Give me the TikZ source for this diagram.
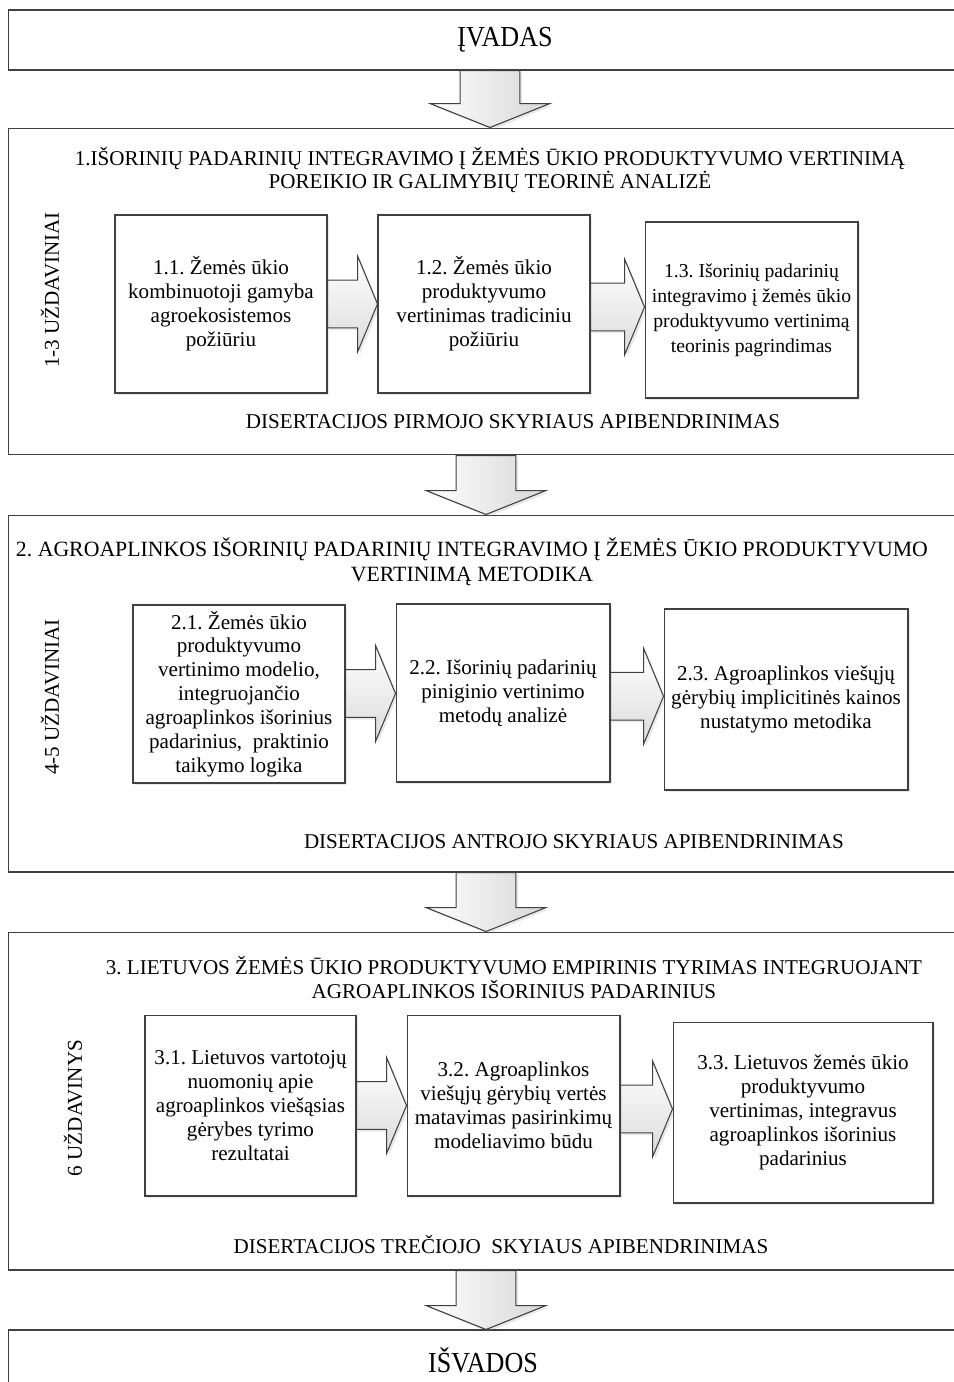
\documentclass[tikz,border=0pt]{standalone}
\usepackage{fontspec}
\setmainfont{Liberation Serif}
\usetikzlibrary{calc,shadows}
\frenchspacing

% one unit = one pixel of the layout
\tikzset{
  secbox/.style={draw=black!75, line width=0.6pt, rectangle, inner sep=0pt},
  taskbox/.style={draw=black!75, line width=0.6pt, fill=white, rectangle,
    align=center, inner sep=0pt,
    drop shadow={opacity=0.18, shadow xshift=1.3pt, shadow yshift=-1.3pt}},
  headtxt/.style={inner sep=0pt, align=center},
  sidetxt/.style={inner sep=0pt, rotate=90},
  blockh/.style={draw=black!75, line width=0.6pt, top color=white, bottom color=black!14,
    drop shadow={opacity=0.18, shadow xshift=1.3pt, shadow yshift=-1.3pt}},
  blockv/.style={draw=black!75, line width=0.6pt, left color=white, right color=black!16,
    drop shadow={opacity=0.18, shadow xshift=1.3pt, shadow yshift=-1.3pt}}
}

% block arrow between two boxes side by side
\newcommand{\hblock}[2]{%
  \path[blockh] let \p1=(#1.east), \p2=(#2.west), \n1={(\y1+\y2)/2}, \n2={\x2-11.3pt} in
    (\x1,\n1+13.6pt) -- (\n2,\n1+13.6pt) -- (\n2,\n1+27.2pt) -- (\x2,\n1)
    -- (\n2,\n1-27.2pt) -- (\n2,\n1-13.6pt) -- (\x1,\n1-13.6pt) -- cycle;}
% block arrow down from one section to the next
\newcommand{\vblock}[3]{%
  \path[blockv] let \p1=(#1.south), \p2=(#2.north), \p3=(#3,0), \n2={\y2+13.6pt} in
    (\x3-17pt,\y1) -- (\x3+17pt,\y1) -- (\x3+17pt,\n2) -- (\x3+34pt,\n2) -- (\x3,\y2)
    -- (\x3-34pt,\n2) -- (\x3-17pt,\n2) -- cycle;}

\begin{document}
\begin{tikzpicture}[x=0.02cm, y=-0.02cm, font=\fontsize{12}{13.6}\selectfont]
\useasboundingbox (0,0) rectangle (953,1382);

% sections
\node[secbox, minimum width=19.04cm, minimum height=1.2cm] (intro) at (484,40) {};
\node[secbox, minimum width=19.04cm, minimum height=6.54cm] (sec1) at (484,291.5) {};
\node[secbox, minimum width=19.04cm, minimum height=7.14cm] (sec2) at (484,693.5) {};
\node[secbox, minimum width=19.04cm, minimum height=6.76cm] (sec3) at (484,1101) {};
\node[secbox, minimum width=19.04cm, minimum height=1.4cm] (concl) at (484,1365) {};

\node[headtxt, xscale=0.9, transform shape, font=\fontsize{16.5}{18}\selectfont] (introtxt) at (505,40) {ĮVADAS};
\node[headtxt, xscale=0.9, transform shape, font=\fontsize{16.5}{18}\selectfont] (concltxt) at (483,1360) {IŠVADOS};

% section 1
\node[headtxt] (head1) at (490,170) {1.IŠORINIŲ PADARINIŲ INTEGRAVIMO Į ŽEMĖS ŪKIO PRODUKTYVUMO VERTINIMĄ\\
  POREIKIO IR GALIMYBIŲ TEORINĖ ANALIZĖ};
\node[sidetxt] (side1) at (50,290) {1-3 UŽDAVINIAI};
\node[taskbox, minimum width=4.24cm, minimum height=3.56cm] (t11) at (221,304)
  {1.1. Žemės ūkio\\ kombinuotoji gamyba\\ agroekosistemos\\ požiūriu};
\node[taskbox, minimum width=4.24cm, minimum height=3.56cm] (t12) at (484,304)
  {1.2. Žemės ūkio\\ produktyvumo\\ vertinimas tradiciniu\\ požiūriu};
\node[taskbox, minimum width=4.26cm, minimum height=3.52cm, font=\fontsize{11.2}{14.2}\selectfont] (t13) at (751.5,310)
  {1.3. Išorinių padarinių\\ integravimo į žemės ūkio\\ produktyvumo vertinimą\\ teorinis pagrindimas};
\node[headtxt] (sum1) at (513,422) {DISERTACIJOS PIRMOJO SKYRIAUS APIBENDRINIMAS};

% section 2
\node[headtxt, font=\fontsize{12.4}{14}\selectfont] (head2) at (472,561.5)
  {2. AGROAPLINKOS IŠORINIŲ PADARINIŲ INTEGRAVIMO Į ŽEMĖS ŪKIO PRODUKTYVUMO\\ VERTINIMĄ METODIKA};
\node[sidetxt] (side2) at (50,697) {4-5 UŽDAVINIAI};
\node[taskbox, minimum width=4.24cm, minimum height=3.56cm] (t21) at (239,694)
  {2.1. Žemės ūkio\\ produktyvumo\\ vertinimo modelio,\\ integruojančio\\ agroaplinkos išorinius\\
   padarinius,\ \ praktinio\\ taikymo logika};
\node[taskbox, minimum width=4.28cm, minimum height=3.56cm] (t22) at (503,693)
  {2.2. Išorinių padarinių\\ piniginio vertinimo\\ metodų analizė};
\node[taskbox, minimum width=4.88cm, minimum height=3.62cm] (t23) at (786,699.5)
  {2.3. Agroaplinkos viešųjų\\ gėrybių implicitinės kainos\\ nustatymo metodika};
\node[headtxt] (sum2) at (574,842) {DISERTACIJOS ANTROJO SKYRIAUS APIBENDRINIMAS};

% section 3
\node[headtxt] (head3) at (514,977.5) {3. LIETUVOS ŽEMĖS ŪKIO PRODUKTYVUMO EMPIRINIS TYRIMAS INTEGRUOJANT\\
  AGROAPLINKOS IŠORINIUS PADARINIUS};
\node[sidetxt] (side3) at (73,1108) {6 UŽDAVINYS};
\node[taskbox, minimum width=4.22cm, minimum height=3.62cm] (t31) at (250.5,1105.5)
  {3.1. Lietuvos vartotojų\\ nuomonių apie\\ agroaplinkos viešąsias\\ gėrybes tyrimo\\ rezultatai};
\node[taskbox, minimum width=4.26cm, minimum height=3.62cm] (t32) at (513.5,1105.5)
  {3.2. Agroaplinkos\\ viešųjų gėrybių vertės\\ matavimas pasirinkimų\\ modeliavimo būdu};
\node[taskbox, minimum width=5.2cm, minimum height=3.62cm] (t33) at (803,1112.5)
  {3.3. Lietuvos žemės ūkio\\ produktyvumo\\ vertinimas, integravus\\ agroaplinkos išorinius\\ padarinius};
\node[headtxt] (sum3) at (501,1245) {DISERTACIJOS TREČIOJO\ \ SKYIAUS APIBENDRINIMAS};

% block arrows
\hblock{t11}{t12}
\hblock{t12}{t13}
\hblock{t21}{t22}
\hblock{t22}{t23}
\hblock{t31}{t32}
\hblock{t32}{t33}
\vblock{intro}{sec1}{490}
\vblock{sec1}{sec2}{486}
\vblock{sec2}{sec3}{486}
\vblock{sec3}{concl}{486}
\end{tikzpicture}
\end{document}
